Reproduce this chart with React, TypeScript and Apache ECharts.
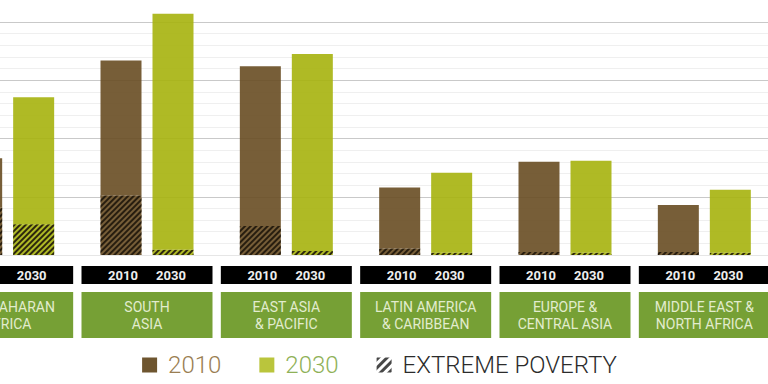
import React, { useEffect, useRef } from "react";
import * as echarts from "echarts";

const regions = [
  "SUB-SAHARAN\nAFRICA",
  "SOUTH\nASIA",
  "EAST ASIA\n& PACIFIC",
  "LATIN AMERICA\n& CARIBBEAN",
  "EUROPE &\nCENTRAL ASIA",
  "MIDDLE EAST &\nNORTH AFRICA",
];
const total2010 = [166, 334, 324, 116, 160, 86];
const total2030 = [271, 414, 345, 141, 162, 112];
const extreme2010 = [81, 102, 50, 11, 5, 5];
const extreme2030 = [53, 9, 7, 4, 4, 4];
const yearLabels = ["2010", "2030"];
const legendNames = ["2010", "2030", "EXTREME POVERTY"];

const BROWN = "#684d22";
const GREEN = "#a6b30d";
const OFFSET_X = 62.1;
const CHART_W = 835.5;

const hatch = {
  symbol: "rect",
  symbolSize: 1,
  color: "#1e160a",
  dashArrayX: [1, 0],
  dashArrayY: [1.6, 1.6],
  rotation: -Math.PI / 4,
};

export default function App() {
  const ref = useRef<HTMLDivElement>(null);
  useEffect(() => {
    if (!ref.current) return;
    const chart = echarts.init(ref.current, undefined, { renderer: "svg" });
    const rest2010 = total2010.map((t, i) => t - extreme2010[i]);
    const rest2030 = total2030.map((t, i) => t - extreme2030[i]);
    const barCommon = {
      type: "bar",
      barWidth: 41,
      barGap: "26.8%",
      clip: false,
      silent: true,
      emphasis: { disabled: true },
    };
    chart.setOption({
      animation: false,
      grid: { left: 0, right: 0, top: 22, bottom: 129, containLabel: false },
      legend: {
        left: 142 + OFFSET_X,
        top: 353,
        padding: 0,
        icon: "rect",
        itemWidth: 15,
        itemHeight: 15,
        itemGap: 38,
        selectedMode: false,
        textStyle: {
          fontFamily: "Roboto",
          fontWeight: 300,
          fontSize: 24,
          padding: [0, 0, 0, 6],
        },
        data: [
          { name: legendNames[0], itemStyle: { color: "#5e4318", decal: "none" }, textStyle: { color: "#9a7e52" } },
          { name: legendNames[1], itemStyle: { color: "#b2bf27", decal: "none" }, textStyle: { color: "#8fb157" } },
          {
            name: legendNames[2],
            itemStyle: {
              color: "#ffffff",
              decal: { ...hatch, color: "#333333", dashArrayY: [2.2, 2.2] },
            },
            textStyle: { color: "#2b2b2b" },
          },
        ],
      },
      xAxis: [
        {
          type: "category",
          data: regions,
          position: "bottom",
          axisLine: { show: false },
          axisTick: { show: false },
          axisLabel: {
            interval: 0,
            margin: 11,
            formatter: () => `{y|${yearLabels[0]}}{y|${yearLabels[1]}}`,
            backgroundColor: "#000000",
            padding: [0, 17.5],
            lineHeight: 18,
            rich: {
              y: {
                width: 48,
                align: "center",
                color: "#eeeeee",
                fontFamily: "Roboto",
                fontWeight: "bold",
                fontSize: 13,
                lineHeight: 18,
              },
            },
          },
        },
        {
          type: "category",
          data: regions,
          position: "bottom",
          axisLine: { show: false },
          axisTick: { show: false },
          axisLabel: {
            interval: 0,
            margin: 37,
            backgroundColor: "#76a035",
            width: 131,
            align: "center",
            padding: [6, 0, 6, 0],
            lineHeight: 17,
            color: "#e2ecce",
            fontFamily: "Roboto",
            fontSize: 14,
          },
        },
      ],
      yAxis: {
        type: "value",
        min: 0,
        max: 400,
        interval: 100,
        axisLabel: { show: false },
        axisLine: { show: false },
        axisTick: { show: false },
        splitLine: {
          lineStyle: { color: ["#e6e6e6", "#c9c9c9", "#c9c9c9", "#c9c9c9", "#c9c9c9"], width: 1 },
        },
        minorTick: { show: false, splitNumber: 5 },
        minorSplitLine: { show: true, lineStyle: { color: "#efefef", width: 1 } },
      },
      series: [
        { ...barCommon, name: legendNames[2], stack: "y2010", data: extreme2010, itemStyle: { color: BROWN, opacity: 0.9, decal: hatch } },
        { ...barCommon, name: legendNames[0], stack: "y2010", data: rest2010, itemStyle: { color: BROWN, opacity: 0.9 } },
        { ...barCommon, name: legendNames[2], stack: "y2030", data: extreme2030, itemStyle: { color: GREEN, opacity: 0.9, decal: hatch } },
        { ...barCommon, name: legendNames[1], stack: "y2030", data: rest2030, itemStyle: { color: GREEN, opacity: 0.9 } },
      ],
    });
    return () => chart.dispose();
  }, []);
  return (
    <div
      style={{ position: "fixed", left: 0, top: 0, width: 768, height: 384, overflow: "hidden", background: "#ffffff" }}
    >
      <div
        ref={ref}
        style={{ position: "absolute", left: -OFFSET_X, top: 0, width: CHART_W, height: 384 }}
      />
    </div>
  );
}
